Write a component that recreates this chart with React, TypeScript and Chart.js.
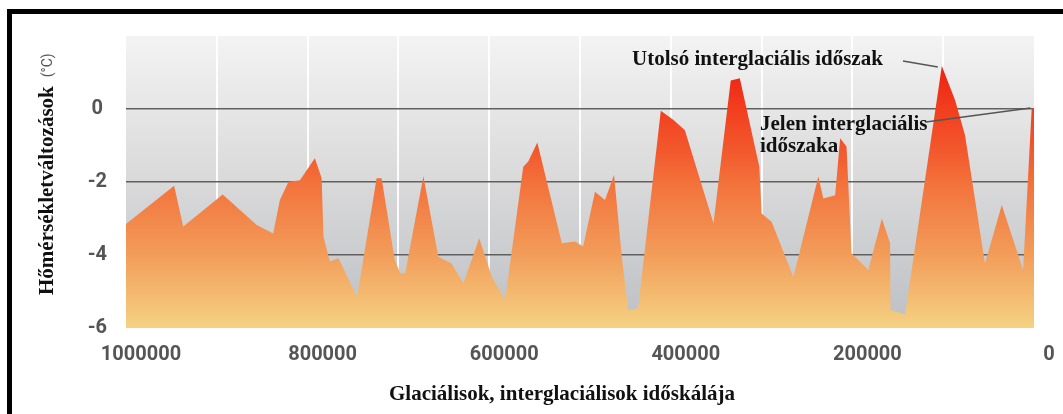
import React, { useEffect, useRef } from 'react';
import { Chart, registerables } from 'chart.js';

Chart.register(...registerables);

// Years before present (x) and temperature change in °C (y)
const years = [
  1000000, 947000, 937000, 893500, 856000, 838000, 830500, 821000, 808500, 792000,
  784500, 782500, 775500, 766000, 745500, 724000, 718500, 704000, 698000, 692500,
  672500, 656000, 641500, 628500, 611000, 597000, 582500, 562500, 557000, 547000,
  520000, 505500, 496500, 483500, 472500, 462500, 454000, 447000, 436000, 411000,
  397000, 384500, 353000, 334000, 324000, 302500, 300000, 289000, 265000, 237500,
  232000, 219000, 213500, 206500, 201000, 186000, 182500, 167500, 158500, 158000,
  142000, 101500, 87000, 76000, 54000, 35500, 12000, 2500, 0,
];
const temps = [
  -3.15, -2.1, -3.22, -2.34, -3.18, -3.41, -2.49, -1.99, -1.95, -1.35,
  -1.9, -3.5, -4.18, -4.09, -5.15, -1.9, -1.9, -4.14, -4.5, -4.5,
  -1.84, -4.05, -4.23, -4.78, -3.54, -4.6, -5.23, -1.58, -1.44, -0.92,
  -3.68, -3.63, -3.77, -2.27, -2.49, -1.81, -4.05, -5.51, -5.46, -0.05,
  -0.3, -0.58, -3.13, 0.78, 0.84, -1.58, -2.86, -3.09, -4.6, -1.85,
  -2.45, -2.36, -0.8, -1.03, -3.95, -4.32, -4.41, -3.0, -3.68, -5.51,
  -5.64, 1.18, 0.25, -0.71, -4.23, -2.63, -4.41, 0.02, 0.0,
];

const yGridValues = [0, -2, -4];
const yTitle = 'Hőmérsékletváltozások';
const yUnit = '(°C)';
const xTitle = 'Glaciálisok, interglaciálisok időskálája';
const noteLast = 'Utolsó interglaciális időszak';
const notePresent = ['Jelen interglaciális', 'időszaka'];
const lastPeak = { x: 101500, y: 1.18 };
const presentPoint = { x: 4000, y: 0.03 };

const SERIF = "'Liberation Serif', 'Times New Roman', serif";

const decorPlugin = {
  id: 'decor',
  beforeDraw(chart: any) {
    const { ctx, chartArea: a } = chart;
    const g = ctx.createLinearGradient(0, a.top, 0, a.bottom);
    g.addColorStop(0, '#f3f3f3');
    g.addColorStop(0.5, '#d9d9da');
    g.addColorStop(1, '#bcc0c4');
    ctx.save();
    ctx.fillStyle = g;
    ctx.fillRect(a.left, a.top, a.right - a.left, a.bottom - a.top);
    ctx.restore();
  },
  afterDraw(chart: any) {
    const { ctx } = chart;
    const xs = chart.scales.x;
    const ys = chart.scales.y;
    ctx.save();
    // y-axis title (rotated)
    ctx.translate(53, 295);
    ctx.rotate(-Math.PI / 2);
    ctx.textBaseline = 'alphabetic';
    ctx.textAlign = 'left';
    ctx.fillStyle = '#111';
    ctx.font = `bold 21px ${SERIF}`;
    ctx.fillText(yTitle, 0, 0);
    const w1 = ctx.measureText(yTitle).width;
    ctx.fillStyle = '#555';
    ctx.font = "14px Roboto, 'DejaVu Sans', sans-serif";
    ctx.fillText(yUnit, w1 + 9, -1);
    ctx.restore();

    ctx.save();
    ctx.fillStyle = '#111';
    ctx.font = `bold 21px ${SERIF}`;
    ctx.textBaseline = 'alphabetic';
    ctx.textAlign = 'center';
    ctx.fillText(xTitle, 562, 400);
    ctx.textAlign = 'left';
    ctx.fillText(noteLast, 632, 65);
    ctx.fillText(notePresent[0], 760, 130);
    ctx.fillText(notePresent[1], 760, 152);

    ctx.strokeStyle = '#555';
    ctx.lineWidth = 1.5;
    const px = xs.getPixelForValue(lastPeak.x);
    const py = ys.getPixelForValue(lastPeak.y);
    ctx.beginPath();
    ctx.moveTo(903, 61);
    ctx.lineTo(px - 4, py + 1);
    ctx.stroke();
    const qx = xs.getPixelForValue(presentPoint.x);
    const qy = ys.getPixelForValue(presentPoint.y);
    ctx.beginPath();
    ctx.moveTo(926, 122);
    ctx.lineTo(qx, qy);
    ctx.stroke();
    ctx.restore();
  },
};

export default function App() {
  const ref = useRef<HTMLCanvasElement>(null);
  useEffect(() => {
    if (!ref.current) return;
    const data = years.map((x, i) => ({ x, y: temps[i] }));
    const chart = new Chart(ref.current, {
      type: 'line',
      data: {
        datasets: [
          {
            data,
            borderWidth: 0,
            borderColor: 'rgba(0,0,0,0)',
            pointRadius: 0,
            tension: 0,
            fill: 'start',
            backgroundColor: (c: any) => {
              const a = c.chart.chartArea;
              if (!a) return '#f39a50';
              const g = c.chart.ctx.createLinearGradient(0, a.top, 0, a.bottom);
              g.addColorStop(0, '#e81a0e');
              g.addColorStop(0.1, '#ec2212');
              g.addColorStop(0.25, '#f23e1e');
              g.addColorStop(0.42, '#f25e30');
              g.addColorStop(0.5, '#f3713b');
              g.addColorStop(0.75, '#f29d5a');
              g.addColorStop(1, '#f5d282');
              return g;
            },
          },
        ],
      },
      options: {
        responsive: false,
        animation: false,
        devicePixelRatio: 1,
        layout: { padding: { top: 36, right: 29, left: 0, bottom: 0 } },
        plugins: { legend: { display: false }, tooltip: { enabled: false } },
        scales: {
          x: {
            type: 'linear',
            reverse: true,
            min: 0,
            max: 1000000,
            border: { display: false },
            grid: {
              drawTicks: false,
              lineWidth: 2,
              color: (c: any) =>
                c.tick && (c.tick.value === 0 || c.tick.value === 1000000)
                  ? 'rgba(0,0,0,0)'
                  : 'rgba(255,255,255,0.9)',
            },
            ticks: {
              stepSize: 100000,
              autoSkip: false,
              maxRotation: 0,
              padding: 15,
              labelOffset: 15,
              color: '#555',
              font: { family: 'Roboto', weight: 'bold', size: 20 },
              callback: (v: any) => (Number(v) % 200000 === 0 ? String(v) : ''),
            },
            afterFit: (axis: any) => {
              axis.height = 86;
            },
          },
          y: {
            min: -6,
            max: 2,
            border: { display: false },
            grid: {
              drawTicks: false,
              lineWidth: 1.5,
              color: (c: any) =>
                c.tick && yGridValues.includes(c.tick.value) ? '#606060' : 'rgba(0,0,0,0)',
            },
            ticks: {
              stepSize: 2,
              padding: 19,
              crossAlign: 'center',
              color: '#555',
              font: { family: 'Roboto', weight: 'bold', size: 20 },
              callback: (v: any) => (Number(v) === 2 ? '' : String(v)),
            },
            afterFit: (axis: any) => {
              axis.width = 126;
            },
          },
        },
      },
      plugins: [decorPlugin],
    } as any);
    return () => chart.destroy();
  }, []);

  return (
    <div
      style={{
        position: 'absolute',
        left: 0,
        top: 0,
        width: 1063,
        height: 414,
        overflow: 'hidden',
        background: '#fff',
      }}
    >
      <div
        style={{
          position: 'absolute',
          left: 7,
          top: 9,
          width: 1200,
          height: 600,
          border: '5px solid #000',
          boxSizing: 'border-box',
        }}
      />
      <canvas
        ref={ref}
        width={1063}
        height={414}
        style={{ position: 'absolute', left: 0, top: 0, display: 'block' }}
      />
    </div>
  );
}
